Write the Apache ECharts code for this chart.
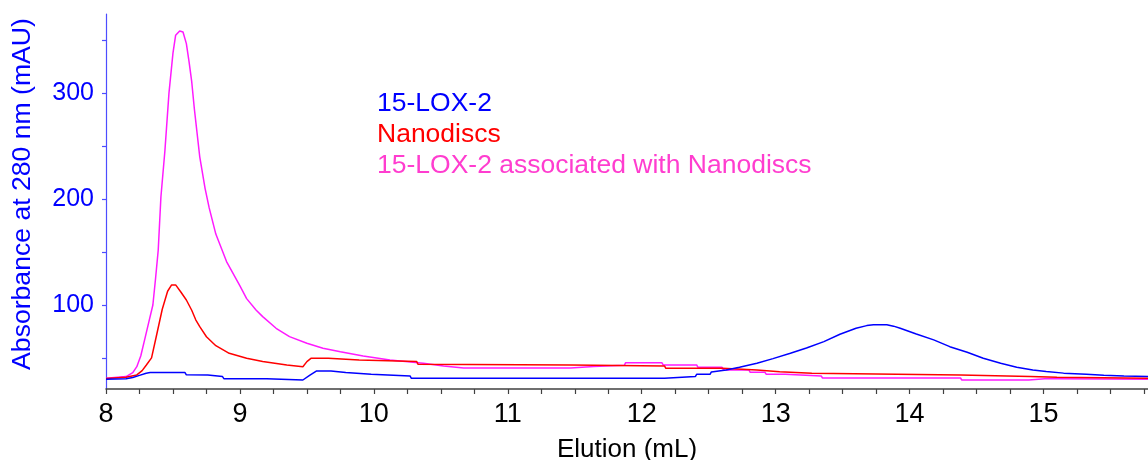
<!DOCTYPE html>
<html><head><meta charset="utf-8">
<script src="https://cdn.jsdelivr.net/npm/echarts@6/dist/echarts.min.js"></script>
<style>html,body{margin:0;padding:0;background:#fff}#c{width:1148px;height:460px}</style>
</head><body><div id="c"></div>
<script>
// ---- data (Elution mL, Absorbance mAU) ----
const seriesNames = ['15-LOX-2', 'Nanodiscs', '15-LOX-2 associated with Nanodiscs'];
const lox2 = [
  [8.0,29.8],[8.15,30.2],[8.2,31.5],[8.25,33.5],[8.3,35.5],[8.33,36.1],[8.59,36.1],[8.6,34.0],
  [8.76,33.9],[8.77,32.3],[8.87,32.3],[8.88,30.4],[9.2,30.4],[9.21,29.1],[9.47,29.1],[9.52,33.5],
  [9.57,37.6],[9.68,37.6],[9.69,36.1],[9.79,36.1],[9.8,34.5],[9.98,34.5],[9.99,32.9],[10.27,32.9],
  [10.28,30.7],[12.17,30.7],[12.18,32.3],[12.4,32.3],[12.41,34.5],[12.51,34.5],[12.52,36.7],
  [12.63,38.6],[12.73,41.1],[12.86,44.9],[12.98,49.3],[13.11,54.4],[13.23,59.4],[13.36,65.4],
  [13.48,72.3],[13.6,78.0],[13.68,80.5],[13.73,81.3],[13.83,81.3],[13.88,80.0],[13.93,78.0],
  [14.05,72.6],[14.18,67.0],[14.3,60.6],[14.43,55.3],[14.55,49.6],[14.68,44.9],[14.8,41.1],
  [14.92,38.6],[15.02,37.2],[15.15,35.6],[15.32,34.5],[15.45,33.5],[15.6,32.8],[15.78,32.3]
];
const nanodiscs = [
  [8.0,30.5],[8.15,31.7],[8.23,33.9],[8.27,38.0],[8.3,43.0],[8.34,50.0],[8.375,70.0],[8.42,96.0],
  [8.46,113.0],[8.49,119.0],[8.52,119.0],[8.56,112.0],[8.6,104.7],[8.64,95.0],[8.67,86.0],
  [8.7,79.5],[8.75,70.0],[8.82,61.5],[8.92,54.3],[9.05,49.6],[9.17,46.5],[9.35,43.3],[9.47,41.7],
  [9.5,46.5],[9.53,49.6],[9.66,49.6],[9.67,48.0],[9.89,48.0],[9.9,46.5],[10.32,46.5],[10.33,43.9],
  [11.47,43.3],[11.48,42.4],[12.17,42.4],[12.18,40.2],[12.6,40.2],[12.61,38.6],[12.86,38.6],
  [12.87,37.0],[13.03,37.0],[13.04,35.5],[13.27,35.5],[13.28,33.9],[14.38,33.9],[14.39,32.3],
  [14.9,32.3],[14.91,31.7],[15.1,31.7],[15.11,30.7],[15.78,30.7]
];
const complex = [
  [8.0,30.7],[8.15,32.3],[8.2,36.0],[8.23,41.7],[8.26,52.0],[8.29,68.0],[8.32,84.0],[8.35,100.0],
  [8.37,125.0],[8.39,152.0],[8.41,202.0],[8.44,246.0],[8.47,300.0],[8.5,338.0],[8.52,355.0],
  [8.55,359.0],[8.575,358.0],[8.6,347.0],[8.62,330.0],[8.64,311.0],[8.66,285.0],[8.7,240.0],
  [8.74,210.0],[8.77,192.0],[8.82,167.0],[8.9,141.0],[9.0,118.0],[9.05,106.0],[9.12,95.3],
  [9.17,89.0],[9.27,78.0],[9.37,70.1],[9.5,63.8],[9.62,59.1],[9.75,55.9],[9.92,51.8],[10.12,48.0],
  [10.37,44.9],[10.52,42.4],[10.67,40.5],[11.08,40.5],[11.09,39.0],[11.1,40.5],[11.47,40.5],
  [11.48,41.8],[11.64,41.8],[11.65,43.0],[11.87,43.0],[11.88,45.5],[12.15,45.5],[12.16,43.3],
  [12.41,43.3],[12.42,41.1],[12.6,41.1],[12.61,38.6],[12.8,38.6],[12.81,36.4],[12.92,36.4],
  [12.93,34.5],[13.07,34.5],[13.08,32.9],[13.34,32.9],[13.35,31.0],[14.38,31.0],[14.39,29.1],
  [14.89,29.1],[14.9,30.4],[15.01,30.4],[15.02,29.4],[15.04,30.4],[15.1,30.4],[15.11,29.8],[15.78,29.8]
];
const xTickLabels = [8, 9, 10, 11, 12, 13, 14, 15];
const yTickLabels = [100, 200, 300];
const yMinorTicks = [50, 100, 150, 200, 250, 300, 350];

// ---- chart ----
const FONT = '"Liberation Sans", Arial, sans-serif';
const lineColors = ['#0000ff', '#ff0000', '#ff1aff'];
const textColors = ['#0000ff', '#ff0000', '#ff3dcf'];
const chart = echarts.init(document.getElementById('c'), null, {renderer: 'canvas'});
const dataBy = [lox2, nanodiscs, complex];
const order = [2, 1, 0];
chart.setOption({
  animation: false,
  backgroundColor: '#ffffff',
  grid: {left: 106, right: 0, top: 14, bottom: 71, containLabel: false, outerBoundsMode: 'none'},
  legend: {
    orient: 'vertical', left: 367, top: 85, itemGap: 4,
    icon: 'none', itemWidth: 0, itemHeight: 0, selectedMode: false,
    textStyle: {fontFamily: FONT, fontSize: 26.5},
    data: seriesNames.map((n, i) => ({name: n, textStyle: {color: textColors[i]}}))
  },
  xAxis: {
    type: 'value', min: 8, max: 15.78, interval: 0.25,
    name: 'Elution (mL)', nameLocation: 'middle', nameGap: 48,
    nameTextStyle: {fontFamily: FONT, fontSize: 26, color: '#000'},
    axisLine: {onZero: false, lineStyle: {color: '#404040', width: 1.5}},
    axisTick: {show: true, length: 5, lineStyle: {color: '#404040', width: 1.2}},
    axisLabel: {
      fontFamily: FONT, fontSize: 27, color: '#000', margin: 12,
      showMaxLabel: false,
      formatter: v => (xTickLabels.indexOf(v) >= 0 ? String(v) : '')
    },
    splitLine: {show: false}
  },
  yAxis: {
    type: 'value', min: 20.6, max: 375,
    name: 'Absorbance at 280 nm (mAU)', nameLocation: 'middle', nameGap: 70, nameRotate: 90,
    nameTextStyle: {fontFamily: FONT, fontSize: 26.6, color: '#0000ff', padding: [0, 0, 0, 15]},
    axisLine: {show: true, lineStyle: {color: '#4d4dff', width: 1.2}},
    axisTick: {show: true, length: 4, customValues: yMinorTicks, lineStyle: {color: '#4d4dff', width: 1.2}},
    axisLabel: {fontFamily: FONT, fontSize: 25, color: '#0000ff', margin: 12, customValues: yTickLabels},
    splitLine: {show: false}
  },
  series: order.map(i => ({
    name: seriesNames[i], type: 'line', data: dataBy[i],
    showSymbol: false, symbol: 'none',
    lineStyle: {color: lineColors[i], width: 1.5},
    itemStyle: {color: lineColors[i]},
    z: 2 + (2 - i)
  }))
});
</script>
</body></html>
